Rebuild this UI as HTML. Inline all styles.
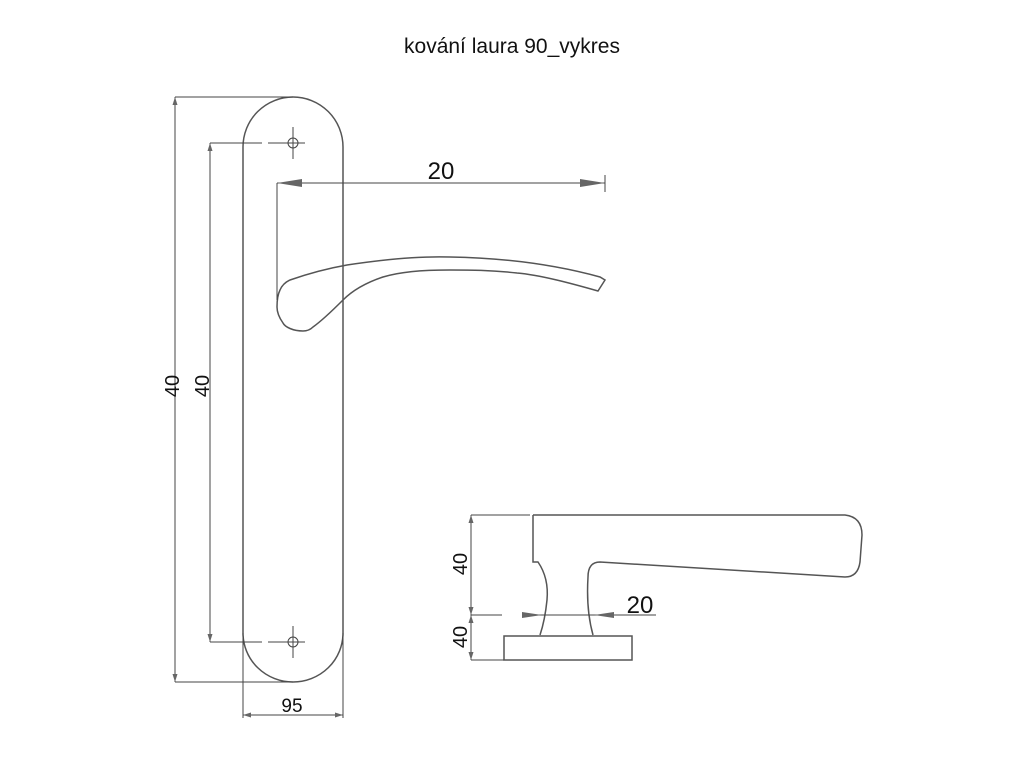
<!DOCTYPE html>
<html><head><meta charset="utf-8"><style>
body{margin:0;background:#fff}
svg{display:block}
text{font-family:"Liberation Sans",sans-serif;fill:#111}
</style></head><body>
<svg width="1024" height="768" viewBox="0 0 1024 768" xmlns="http://www.w3.org/2000/svg">
<text x="512" y="53" font-size="21" text-anchor="middle">kování laura 90_vykres</text>
<g fill="none" stroke="#555" stroke-width="1.5">
<path d="M243 147 A50 50 0 0 1 343 147 L343 633 A50 49 0 0 1 243 633 Z"/>
<path d="M280 290 C283 283 288 281 290 280 C310 273 330 268 347 265 C380 260 420 256 450 257 C510 258 560 266 600 277 L605 280 L598 291 C570 283 540 275 517 273 C490 270 470 270 450 270 C420 270 400 272 383 277 C365 283 352 291 343 300 C333 310 320 322 313 327 C310 330 306 331 303 331 C293 331 285 327 283 323 C278 316 277 311 277 307 C277 300 278 294 280 290 Z"/>
<path d="M533 515 L845 515 Q862 517 862 535 L860 562 Q858 577 845 577 L600 562 Q588 562 588 577 Q586 610 593 635"/>
<path d="M533 515 L533 562 L538 562 Q549 578 547 600 Q545 620 540 635"/>
<rect x="504" y="636" width="128" height="24"/>
</g>
<g fill="none" stroke="#444" stroke-width="1">
<circle cx="293" cy="143" r="5"/><path d="M293 127 V159 M268 143 H305 M240 143 H262"/>
<circle cx="293" cy="642" r="5"/><path d="M293 626 V658 M268 642 H305 M240 642 H262"/>
<path d="M175 97 H293 M175 682 H293 M175 97 V682"/>
<path d="M210 143 H262 M210 642 H262 M210 143 V642"/>
<path d="M243 633 V718 M343 633 V718 M243 715 H343"/>
<path d="M277 183 V300 M277 183 H605 M605 175 V192"/>
<path d="M471 515 H530 M471 615 H502 M471 660 H504 M471 515 V660"/>
<path d="M522 615 H656"/>
</g>
<g fill="#666">
<path d="M175 97 l-2.5 8 h5z M175 682 l-2.5 -8 h5z M210 143 l-2.5 8 h5z M210 642 l-2.5 -8 h5z"/>
<path d="M243 715 l8 -2.5 v5z M343 715 l-8 -2.5 v5z"/>
<path d="M277 183 l25 -4 v8z M605 183 l-25 -4 v8z"/>
<path d="M471 515 l-2.5 8 h5z M471 615 l-2.5 -8 h5z M471 615 l-2.5 8 h5z M471 660 l-2.5 -8 h5z"/>
<path d="M522 612 l20 3 l-20 3z M614 612 l-20 3 l20 3z"/>
</g>
<text x="441" y="179" font-size="24" text-anchor="middle">20</text>
<text x="292" y="712" font-size="19" text-anchor="middle">95</text>
<text transform="translate(179 386) rotate(-90)" font-size="20" text-anchor="middle">40</text>
<text transform="translate(209 386) rotate(-90)" font-size="20" text-anchor="middle">40</text>
<text transform="translate(467 564) rotate(-90)" font-size="20" text-anchor="middle">40</text>
<text transform="translate(467 637) rotate(-90)" font-size="20" text-anchor="middle">40</text>
<text x="640" y="613" font-size="24" text-anchor="middle">20</text>
</svg>
</body></html>
